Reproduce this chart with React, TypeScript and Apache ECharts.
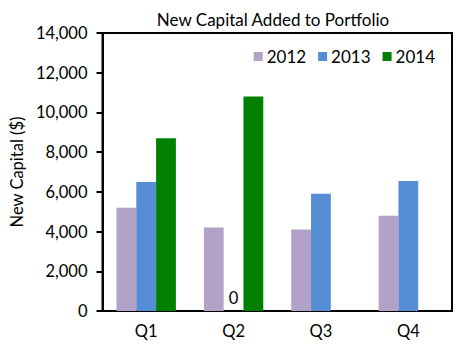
import React, { useEffect, useRef } from "react";
import * as echarts from "echarts";

const categories = ["Q1", "Q2", "Q3", "Q4"];
const s2012 = [5200, 4200, 4100, 4800];
const s2013 = [6500, 0, 5900, 6550];
const s2014: (number | null)[] = [8700, 10800, null, null];
const seriesNames = ["2012", "2013", "2014"];
const colors = ["#b3a2c7", "#558ed5", "#008000"];

const FONT = "Lato";

export default function App() {
  const ref = useRef<HTMLDivElement>(null);
  useEffect(() => {
    if (!ref.current) return;
    const chart = echarts.init(ref.current, null, { renderer: "svg" });
    const data = [s2012, s2013, s2014];
    chart.setOption({
      animation: false,
      backgroundColor: "#fff",
      textStyle: { fontFamily: FONT, color: "#000" },
      title: {
        text: "New Capital Added to Portfolio",
        left: 268,
        textAlign: "center",
        top: 6,
        textStyle: { fontSize: 17, fontWeight: "normal", color: "#000", fontFamily: FONT },
      },
      legend: {
        right: 19,
        top: 43,
        itemWidth: 9,
        itemHeight: 9,
        itemGap: 12,
        icon: "rect",
        textStyle: { fontSize: 17, color: "#000", fontFamily: FONT, padding: [0, 0, 0, -1] },
        data: seriesNames,
      },
      grid: {
        left: 97,
        right: 7,
        top: 33,
        bottom: 41,
        show: true,
        backgroundColor: "transparent",
        borderColor: "#000",
        borderWidth: 2,
      },
      xAxis: {
        type: "category",
        data: categories,
        axisLine: { lineStyle: { color: "#000", width: 2 } },
        axisTick: { show: false },
        axisLabel: { fontSize: 16.5, color: "#000", margin: 11, fontFamily: FONT },
      },
      yAxis: {
        type: "value",
        min: 0,
        max: 14000,
        interval: 2000,
        name: "New Capital ($)",
        nameLocation: "middle",
        nameGap: 76,
        nameTextStyle: { fontSize: 16.5, color: "#000", fontFamily: FONT },
        axisLine: { show: true, lineStyle: { color: "#000", width: 2 } },
        axisTick: { show: true, length: 6, lineStyle: { color: "#000", width: 2 } },
        splitLine: { show: false },
        axisLabel: {
          fontSize: 16.5,
          color: "#000",
          margin: 15,
          fontFamily: FONT,
          formatter: (v: number) => v.toLocaleString("en-US"),
        },
      },
      series: seriesNames.map((name, i) => ({
        name,
        type: "bar",
        data: data[i],
        barGap: "0%",
        barCategoryGap: "32%",
        itemStyle: { color: colors[i] },
        label: {
          show: true,
          position: "top",
          fontSize: 16.5,
          color: "#000",
          fontFamily: FONT,
          formatter: (p: any) => (p.value === 0 ? "0" : ""),
        },
      })),
    });
    return () => chart.dispose();
  }, []);
  return (
    <div
      ref={ref}
      style={{ position: "absolute", left: 0, top: 0, width: 459, height: 352 }}
    />
  );
}
